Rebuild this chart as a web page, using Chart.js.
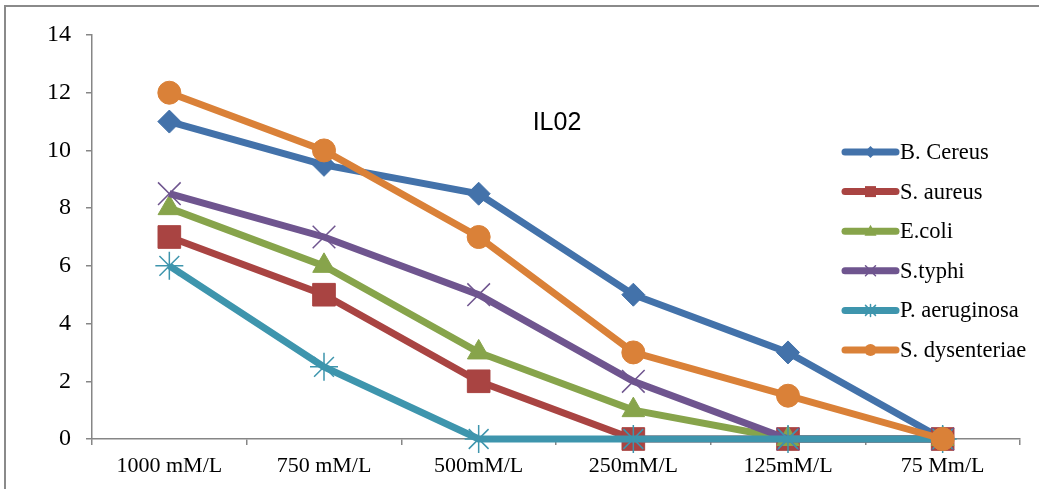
<!DOCTYPE html>
<html>
<head>
<meta charset="utf-8">
<script src="https://cdn.jsdelivr.net/npm/chart.js@4/dist/chart.umd.min.js"></script>
<style>
  html, body { margin: 0; padding: 0; background: #fff; }
  #chart { display: block; }
</style>
</head>
<body>
<canvas id="chart" width="1039" height="489"></canvas>
<script>
// categories along the bottom
let concentrations = ['1000 mM/L', '750 mM/L', '500mM/L', '250mM/L', '125mM/L', '75 Mm/L']

// one array per organism
let bCereus = [11, 9.5, 8.5, 5, 3, 0]
let sAureus = [7, 5, 2, 0, 0, 0]
let eColi = [8, 6, 3, 1, 0, 0]
let sTyphi = [8.5, 7, 5, 2, 0, 0]
let pAeruginosa = [6, 2.5, 0, 0, 0, 0]
let sDysenteriae = [12, 10, 7, 3, 1.5, 0]

let seriesNames = ['B. Cereus', 'S. aureus', 'E.coli', 'S.typhi', 'P. aeruginosa', 'S. dysenteriae']
let seriesData = [bCereus, sAureus, eColi, sTyphi, pAeruginosa, sDysenteriae]
let seriesColors = ['#4372AA', '#A94442', '#87A44B', '#6F558F', '#3E95AD', '#DA8138']
let seriesMarkers = ['rectRot', 'rect', 'triangle', 'crossRot', 'star', 'circle']
let markerSizes = [11.5, 16, 13, 16, 14, 11.5]

let chartTitle = 'IL02'

let yMin = 0
let yMax = 14
let yStep = 2

let axisGray = '#868686'

// build datasets, later series drawn on top (like the original)
let datasets = seriesNames.map(function (name, i) {
    let thin = seriesMarkers[i] === 'crossRot' || seriesMarkers[i] === 'star'
    return {
        label: name,
        data: seriesData[i],
        borderColor: seriesColors[i],
        backgroundColor: seriesColors[i],
        borderWidth: 7,
        pointStyle: seriesMarkers[i],
        pointRadius: markerSizes[i],
        pointHoverRadius: markerSizes[i],
        pointBorderWidth: thin ? 1.5 : 1,
        pointBorderColor: seriesColors[i],
        pointBackgroundColor: seriesColors[i],
        tension: 0,
        clip: false,
        order: seriesNames.length - 1 - i
    }
})

// small marker for the legend
function legendMarker(ctx, style, x, y, color) {
    ctx.save()
    ctx.fillStyle = color
    ctx.strokeStyle = color
    ctx.lineWidth = 1.5
    ctx.beginPath()
    let r = 6
    if (style === 'rectRot') {
        ctx.moveTo(x, y - r); ctx.lineTo(x + r, y); ctx.lineTo(x, y + r); ctx.lineTo(x - r, y); ctx.closePath(); ctx.fill()
    } else if (style === 'rect') {
        ctx.rect(x - 5.5, y - 5.5, 11, 11); ctx.fill()
    } else if (style === 'triangle') {
        ctx.moveTo(x, y - 6.5); ctx.lineTo(x + 6, y + 4.5); ctx.lineTo(x - 6, y + 4.5); ctx.closePath(); ctx.fill()
    } else if (style === 'circle') {
        ctx.arc(x, y, 6, 0, Math.PI * 2); ctx.fill()
    } else if (style === 'crossRot') {
        ctx.moveTo(x - 5, y - 5); ctx.lineTo(x + 5, y + 5); ctx.moveTo(x + 5, y - 5); ctx.lineTo(x - 5, y + 5); ctx.stroke()
    } else if (style === 'star') {
        ctx.moveTo(x - 5, y - 5); ctx.lineTo(x + 5, y + 5); ctx.moveTo(x + 5, y - 5); ctx.lineTo(x - 5, y + 5)
        ctx.moveTo(x, y - 6); ctx.lineTo(x, y + 6); ctx.stroke()
    }
    ctx.restore()
}

let decorations = {
    id: 'decorations',
    beforeDraw: function (chart) {
        let ctx = chart.ctx
        ctx.save()
        ctx.fillStyle = '#ffffff'
        ctx.fillRect(0, 0, chart.width, chart.height)
        // frame round the chart (top and left visible)
        ctx.strokeStyle = '#8a8a8a'
        ctx.lineWidth = 2
        ctx.beginPath()
        ctx.moveTo(5, chart.height)
        ctx.lineTo(5, 6)
        ctx.lineTo(chart.width, 6)
        ctx.stroke()
        ctx.restore()
    },
    afterDraw: function (chart) {
        let ctx = chart.ctx
        ctx.save()
        // title sits inside the plot
        ctx.fillStyle = '#000'
        ctx.font = '25px "Liberation Sans", Arial, sans-serif'
        ctx.textAlign = 'center'
        ctx.textBaseline = 'middle'
        ctx.fillText(chartTitle, 557, 123)

        // legend
        let x0 = 845, x1 = 896, rowY = 152, rowGap = 39.6
        ctx.font = '22.5px "Liberation Serif", "Times New Roman", serif'
        ctx.textAlign = 'left'
        seriesNames.forEach(function (name, i) {
            let y = rowY + i * rowGap
            ctx.strokeStyle = seriesColors[i]
            ctx.lineWidth = 7
            ctx.lineCap = 'round'
            ctx.beginPath()
            ctx.moveTo(x0, y)
            ctx.lineTo(x1, y)
            ctx.stroke()
            legendMarker(ctx, seriesMarkers[i], (x0 + x1) / 2, y, seriesColors[i])
            ctx.fillStyle = '#000'
            ctx.fillText(name, 900, y + 1)
        })
        ctx.restore()
    }
}

let ctx = document.querySelector('#chart').getContext('2d')

let chart = new Chart(ctx, {
    type: 'line',
    data: {
        labels: concentrations,
        datasets: datasets
    },
    options: {
        responsive: false,
        animation: false,
        layout: { padding: { top: 35, right: 19, left: 0, bottom: 0 } },
        plugins: {
            legend: { display: false },
            title: { display: false },
            tooltip: { enabled: false }
        },
        scales: {
            x: {
                offset: true,
                grid: { offset: true, drawOnChartArea: false, tickLength: 6, color: axisGray, lineWidth: 1.5 },
                border: { color: axisGray, width: 1.5 },
                ticks: {
                    color: '#000',
                    padding: 8,
                    maxRotation: 0,
                    autoSkip: false,
                    font: { family: '"Liberation Serif", "Times New Roman", serif', size: 22 }
                },
                afterFit: function (scale) { scale.height = 50 }
            },
            y: {
                min: yMin,
                max: yMax,
                grid: { drawOnChartArea: false, tickLength: 6, color: axisGray, lineWidth: 1.5 },
                border: { color: axisGray, width: 1.5 },
                ticks: {
                    stepSize: yStep,
                    color: '#000',
                    padding: 15,
                    font: { family: '"Liberation Serif", "Times New Roman", serif', size: 24 }
                },
                afterFit: function (scale) { scale.width = 92 }
            }
        }
    },
    plugins: [decorations]
})
</script>
</body>
</html>
